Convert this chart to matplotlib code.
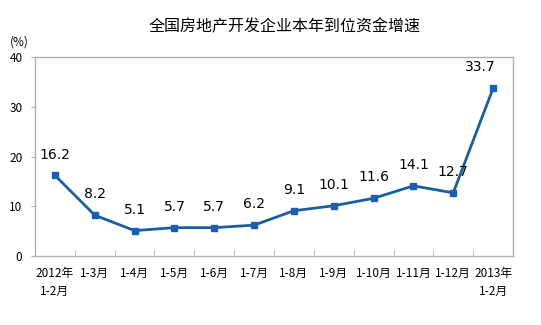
import matplotlib
matplotlib.use("Agg")
import matplotlib.pyplot as plt

plt.rcParams['font.family'] = ['Noto Sans CJK SC', 'DejaVu Sans']

categories = ["2012年\n1-2月", "1-3月", "1-4月", "1-5月", "1-6月", "1-7月",
              "1-8月", "1-9月", "1-10月", "1-11月", "1-12月", "2013年\n1-2月"]
values = [16.2, 8.2, 5.1, 5.7, 5.7, 6.2, 9.1, 10.1, 11.6, 14.1, 12.7, 33.7]
yticks = [0, 10, 20, 30, 40]

fig = plt.figure(figsize=(5.41, 3.25), dpi=100)
ax = fig.add_axes([35 / 541, 69 / 325, 478 / 541, 199 / 325])

x = list(range(len(values)))
ax.plot(x, values, color='#1b5e9e', linewidth=2, marker='s', markersize=5,
        markerfacecolor='#1a5fb4', markeredgecolor='#1a5fb4')

for i, v in enumerate(values):
    dx = -9 if i == len(values) - 1 else 0
    ax.annotate(f"{v}", (i, v), xytext=(dx, 10), textcoords='offset points',
                ha='center', va='bottom', fontsize=10, family='DejaVu Sans')

ax.set_xlim(-0.5, len(values) - 0.5)
ax.set_ylim(0, 40)
ax.set_yticks(yticks)
ax.set_yticklabels([str(t) for t in yticks], fontsize=8.5)
ax.set_xticks(x)
ax.set_xticklabels(categories, fontsize=8.5, va='top', linespacing=1.5)
ax.set_xticks([i + 0.5 for i in x[:-1]], minor=True)
ax.tick_params(axis='x', which='major', length=0, pad=8)
ax.tick_params(axis='x', which='minor', length=4, color='#b0b0b0', direction='in')
ax.tick_params(axis='y', length=3, color='#b0b0b0', pad=6)
for s in ax.spines.values():
    s.set_color('#b0b0b0')
    s.set_linewidth(1)

fig.text(285 / 541, 1 - 27 / 325, "全国房地产开发企业本年到位资金增速",
         ha='center', va='center', fontsize=11.5)
fig.text(10 / 541, 1 - 42 / 325, "(%)", ha='left', va='center', fontsize=8.5)

fig.savefig("out.png", dpi=100)
